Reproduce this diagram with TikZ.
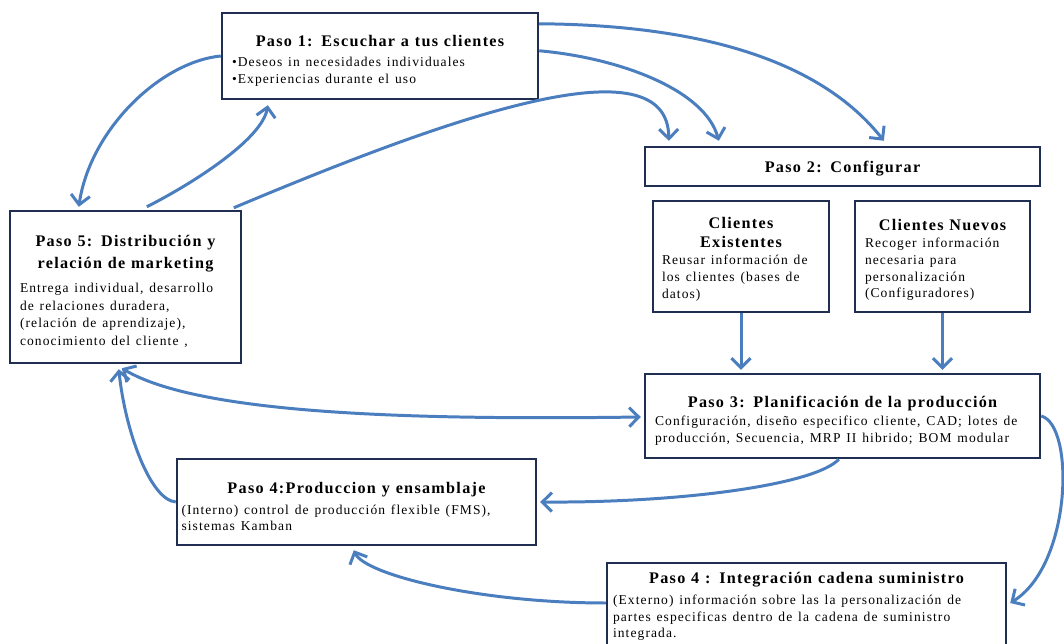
\documentclass[tikz,border=0pt]{standalone}
\usepackage{fontspec}
\setmainfont{Liberation Serif}[LetterSpace=8]
\usetikzlibrary{arrows.meta,calc}
\definecolor{boxline}{RGB}{32,46,82}
\definecolor{flow}{RGB}{74,126,190}
\newcommand\ttl{\fontsize{9.2}{11}\selectfont\bfseries}
\newcommand\bdy{\fontsize{7.7}{9.6}\selectfont}
% negative space closing a box text: lowers the text inside its frame
\newcommand\sink[1][5.5pt]{\par\vspace{-#1}\hrule height 0pt width 0pt\relax}

\begin{document}
\begin{tikzpicture}[x=0.02cm,y=-0.02cm,
  box/.style={draw=boxline,line width=1.4pt,fill=white,inner sep=0pt},
  barb/.tip={Straight Barb[length=1.9mm,width=3.8mm]},
  flowline/.style={draw=flow,line width=1.7pt,-barb},
  twoway/.style={draw=flow,line width=1.7pt,barb-barb}]

\fill[white] (0,0) rectangle (1064,644);
\useasboundingbox (0,0) rectangle (1064,644);

% steps of the cycle
\node[box,minimum width=6.32cm,minimum height=1.72cm,text width=5.92cm] (p1) at (380,56)
  {{\centering\ttl Paso 1: Escuchar a tus clientes\par}\vspace{1.5pt}\raggedright\bdy
   •Deseos in necesidades individuales\\•Experiencias durante el uso\sink};

\node[box,minimum width=7.9cm,minimum height=0.78cm,text width=7.5cm] (p2) at (842.5,166.5)
  {{\centering\ttl Paso 2: Configurar\par}\sink[4pt]};

\node[box,minimum width=3.52cm,minimum height=2.22cm,text width=3.16cm] (ce) at (741,256.5)
  {{\centering\ttl Clientes\\Existentes\par}\raggedright\bdy
   Reusar información de\\los clientes (bases de\\datos)\sink[3pt]};

\node[box,minimum width=3.5cm,minimum height=2.22cm,text width=3.1cm] (cn) at (942.5,256.5)
  {{\centering\ttl Clientes Nuevos\par}\raggedright\bdy
   Recoger información\\necesaria para\\personalización\\(Configuradores)\sink[4pt]};

\node[box,minimum width=7.9cm,minimum height=1.68cm,text width=7.5cm] (p3) at (842.5,416)
  {{\centering\ttl Paso 3: Planificación de la producción\par}\vspace{1pt}\raggedright\bdy
   Configuración, diseño especifico cliente, CAD; lotes de\\producción, Secuencia, MRP II hibrido; BOM modular\sink};

\node[box,minimum width=4.62cm,minimum height=3.04cm,text width=4.22cm] (p5) at (125.5,287)
  {{\centering\fontsize{9.2}{12.5}\selectfont\bfseries Paso 5: Distribución y\\relación de marketing\par}\vspace{3pt}
   \raggedright\fontsize{7.7}{10.2}\selectfont
   Entrega individual, desarrollo\\de relaciones duradera,\\(relación de aprendizaje),\\conocimiento del cliente ,\sink};

\node[box,minimum width=7.18cm,minimum height=1.72cm,text width=7.0cm] (p4a) at (356.5,502)
  {{\centering\ttl Paso 4:Produccion y ensamblaje\par}\vspace{2pt}\raggedright\bdy
   (Interno) control de producción flexible (FMS),\\sistemas Kamban\sink};

\node[box,anchor=north,minimum width=7.98cm,minimum height=1.74cm,text width=7.74cm] (p4b) at (806.5,562)
  {{\centering\ttl Paso 4 : Integración cadena suministro\par}\vspace{2pt}\raggedright\bdy
   (Externo) información sobre las la personalización de\\partes especificas dentro de la cadena de suministro\\integrada.\par};

% connectors
\draw[flowline] (p1.west) .. controls (160,62) and (90,130) .. ($(p5.north west)+(70,-3)$);
\draw[flowline] ($(p5.north west)+(138,-3)$) .. controls (190,185) and (262,140) .. ($(p1.south west)+(47,5)$);
\draw[flowline] ($(p5.north west)+(225,-2)$) .. controls (452,116) and (668,40) .. ($(p2.north west)+(25,-5)$);
\draw[flowline] ($(p1.north east)+(0,39)$) .. controls (620,58) and (705,90) .. ($(p2.north west)+(75,-5)$);
\draw[flowline] ($(p1.north east)+(0,12)$) .. controls (700,25) and (820,60) .. ($(p2.north west)+(240,-5)$);

\draw[flowline] (ce) -- ($(ce.south |- p3.north)+(0,-3)$);
\draw[flowline] (cn) -- ($(cn.south |- p3.north)+(0,-3)$);

\draw[twoway] ($(p5.south west)+(113,4)$) .. controls (200,415) and (420,420) .. ($(p3.west)+(-3,1)$);
\draw[flowline] (p4a.west) .. controls (150,500) and (125,430) .. ($(p5.south west)+(110,5)$);
\draw[flowline] ($(p3.south west)+(195,0)$) .. controls (815,485) and (680,503) .. ($(p4a.east)+(3,0)$);
\draw[flowline] (p3.east) .. controls (1075,425) and (1072,565) .. ($(p4b.north east)+(3,41)$);
\draw[flowline] ($(p4b.north west)+(0,41)$) .. controls (480,603) and (365,575) .. ($(p4a.south west)+(178,4)$);

\end{tikzpicture}
\end{document}
